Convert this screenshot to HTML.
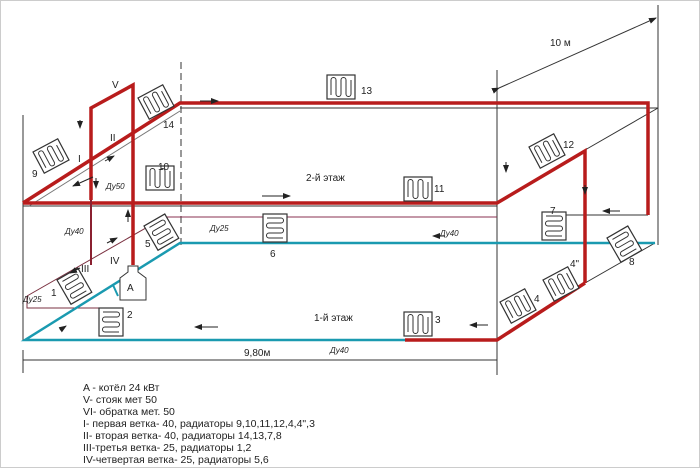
<!DOCTYPE html>
<html><head><meta charset="utf-8"><style>
html,body{margin:0;padding:0;background:#fff}
svg{display:block}
text{font-family:"Liberation Sans",sans-serif;fill:#222}
</style></head><body>
<svg width="700" height="468" viewBox="0 0 700 468" xmlns="http://www.w3.org/2000/svg">
<defs>
<g id="rad"><rect x="0" y="0" width="28" height="24" fill="#fff" stroke="#333" stroke-width="1.2"/>
<path d="M4 20 V5 a2.5 2.5 0 0 1 5 0 V19 a2.5 2.5 0 0 0 5 0 V5 a2.5 2.5 0 0 1 5 0 V19 a2.5 2.5 0 0 0 5 0 V5" fill="none" stroke="#333" stroke-width="1"/></g>
<g id="radh"><rect x="0" y="0" width="24" height="28" fill="#fff" stroke="#333" stroke-width="1.2"/>
<path d="M4 4 H18 a2.5 2.5 0 0 1 0 5 H6 a2.5 2.5 0 0 0 0 5 H18 a2.5 2.5 0 0 1 0 5 H6 a2.5 2.5 0 0 0 0 5 H20" fill="none" stroke="#333" stroke-width="1"/></g>
<marker id="ar" markerWidth="8" markerHeight="6" refX="7" refY="3" orient="auto"><path d="M0 0 L8 3 L0 6z" fill="#222"/></marker>
</defs>
<rect x="0.5" y="0.5" width="699" height="467" fill="none" stroke="#ccc"/>
<!-- structure lines -->
<g stroke="#333" stroke-width="1" fill="none">
<line x1="23" y1="115" x2="23" y2="340"/>
<line x1="497" y1="70" x2="497" y2="375"/>
<line x1="658" y1="5" x2="658" y2="245"/>
<line x1="181" y1="62" x2="181" y2="245" stroke-dasharray="7,4"/>
<line x1="180" y1="108" x2="658" y2="108"/>
<line x1="23" y1="206" x2="497" y2="206"/>
<line x1="585" y1="150" x2="658" y2="108"/>
<line x1="585" y1="283" x2="655" y2="243"/>
<line x1="545" y1="215" x2="648" y2="215"/>
<line x1="23" y1="360" x2="497" y2="360"/>
<line x1="23" y1="350" x2="23" y2="373"/>
<line x1="497" y1="350" x2="497" y2="373"/>
<line x1="499" y1="88" x2="656" y2="18" marker-end="url(#ar)" marker-start="url(#ar)"/>
<!-- branch III/IV thin -->
<line x1="27" y1="296" x2="165" y2="217" stroke="#7a3040"/>
<line x1="165" y1="217" x2="497" y2="217" stroke="#8a3050"/>
<polyline points="27,296 27,308 100,308" stroke="#7a3040"/>
<line x1="29" y1="206" x2="180" y2="111" stroke="#777"/>
</g>
<!-- blue return -->
<g stroke="#1a9ab0" stroke-width="2.5" fill="none">
<polyline points="405,340 25,340 180,243 655,243"/>
<line x1="113" y1="285" x2="118" y2="296" stroke-width="2"/>
</g>
<!-- red supply -->
<g stroke="#b81c1c" stroke-width="3.5" fill="none" stroke-linejoin="miter">
<polyline points="23,203 180,103 648,103 648,215"/>
<polyline points="23,203 497,203 585,151 585,283"/>
<polyline points="405,340 497,340 585,283"/>
<polyline points="133,265 133,85 91,108 91,200"/>
</g>
<line x1="91" y1="200" x2="91" y2="265" stroke="#8a2030" stroke-width="2"/>
<!-- boiler -->
<path d="M120 300 V278 L128 272 V266 H138 V272 L146 278 V300 Z" fill="#fff" stroke="#333"/>
<text x="127" y="291" font-size="10">A</text>
<!-- radiators -->
<use href="#rad" x="327" y="75"/>
<use href="#rad" x="404" y="177"/>
<use href="#rad" x="404" y="312"/>
<use href="#rad" x="146" y="166"/>
<use href="#radh" x="99" y="308"/>
<use href="#radh" x="263" y="214"/>
<use href="#radh" x="542" y="212"/>
<use href="#rad" transform="translate(138,98) rotate(-28)"/>
<use href="#rad" transform="translate(33,152) rotate(-28)"/>
<use href="#rad" transform="translate(529,147) rotate(-28)"/>
<use href="#rad" transform="translate(500,302) rotate(-28)"/>
<use href="#rad" transform="translate(543,280) rotate(-28)"/>
<use href="#radh" transform="translate(144,226) rotate(-30)"/>
<use href="#radh" transform="translate(57,280) rotate(-30)"/>
<use href="#radh" transform="translate(607,238) rotate(-30)"/>
<!-- flow arrows -->
<g stroke="#222" stroke-width="1" marker-end="url(#ar)">
<line x1="200" y1="101" x2="218" y2="101"/>
<line x1="262" y1="196" x2="290" y2="196"/>
<line x1="620" y1="211" x2="603" y2="211"/>
<line x1="445" y1="236" x2="433" y2="236"/>
<line x1="218" y1="327" x2="195" y2="327"/>
<line x1="488" y1="325" x2="470" y2="325"/>
<line x1="80" y1="120" x2="80" y2="128"/>
<line x1="96" y1="178" x2="96" y2="188"/>
<line x1="128" y1="222" x2="128" y2="210"/>
<line x1="506" y1="162" x2="506" y2="172"/>
<line x1="585" y1="185" x2="585" y2="194"/>
<line x1="610" y1="226" x2="640" y2="224" stroke-width="0"/>
<line x1="60" y1="330" x2="66" y2="326"/>
<line x1="105" y1="161" x2="114" y2="156"/>
<line x1="93" y1="177" x2="73" y2="186"/>
<line x1="107" y1="243" x2="117" y2="238"/>
<line x1="80" y1="268" x2="70" y2="273"/>
</g>
<!-- labels -->
<g font-size="10">
<text x="112" y="88">V</text>
<text x="110" y="141">II</text>
<text x="78" y="162">I</text>
<text x="32" y="177">9</text>
<text x="163" y="128">14</text>
<text x="158" y="170">10</text>
<text x="361" y="94">13</text>
<text x="434" y="192">11</text>
<text x="563" y="148">12</text>
<text x="550" y="214">7</text>
<text x="570" y="267">4"</text>
<text x="534" y="302">4</text>
<text x="629" y="265">8</text>
<text x="435" y="323">3</text>
<text x="127" y="318">2</text>
<text x="270" y="257">6</text>
<text x="145" y="247">5</text>
<text x="51" y="296">1</text>
<text x="81" y="272">III</text>
<text x="110" y="264">IV</text>
<text x="306" y="181">2-й этаж</text>
<text x="314" y="321">1-й этаж</text>
<text x="244" y="356">9,80м</text>
<text x="550" y="46">10 м</text>
</g>
<g font-size="8" font-style="italic">
<text x="106" y="189">Ду50</text>
<text x="65" y="234">Ду40</text>
<text x="23" y="302">Ду25</text>
<text x="210" y="231">Ду25</text>
<text x="440" y="236">Ду40</text>
<text x="330" y="353">Ду40</text>
</g>
<g font-size="10.5">
<text x="83" y="391">A - котёл 24 кВт</text>
<text x="83" y="403">V- стояк мет 50</text>
<text x="83" y="415">VI- обратка мет. 50</text>
<text x="83" y="427">I- первая ветка- 40, радиаторы 9,10,11,12,4,4",3</text>
<text x="83" y="439">II- вторая ветка- 40, радиаторы 14,13,7,8</text>
<text x="83" y="451">III-третья ветка- 25, радиаторы 1,2</text>
<text x="83" y="463">IV-четвертая ветка- 25, радиаторы 5,6</text>
</g>
</svg>
</body></html>
